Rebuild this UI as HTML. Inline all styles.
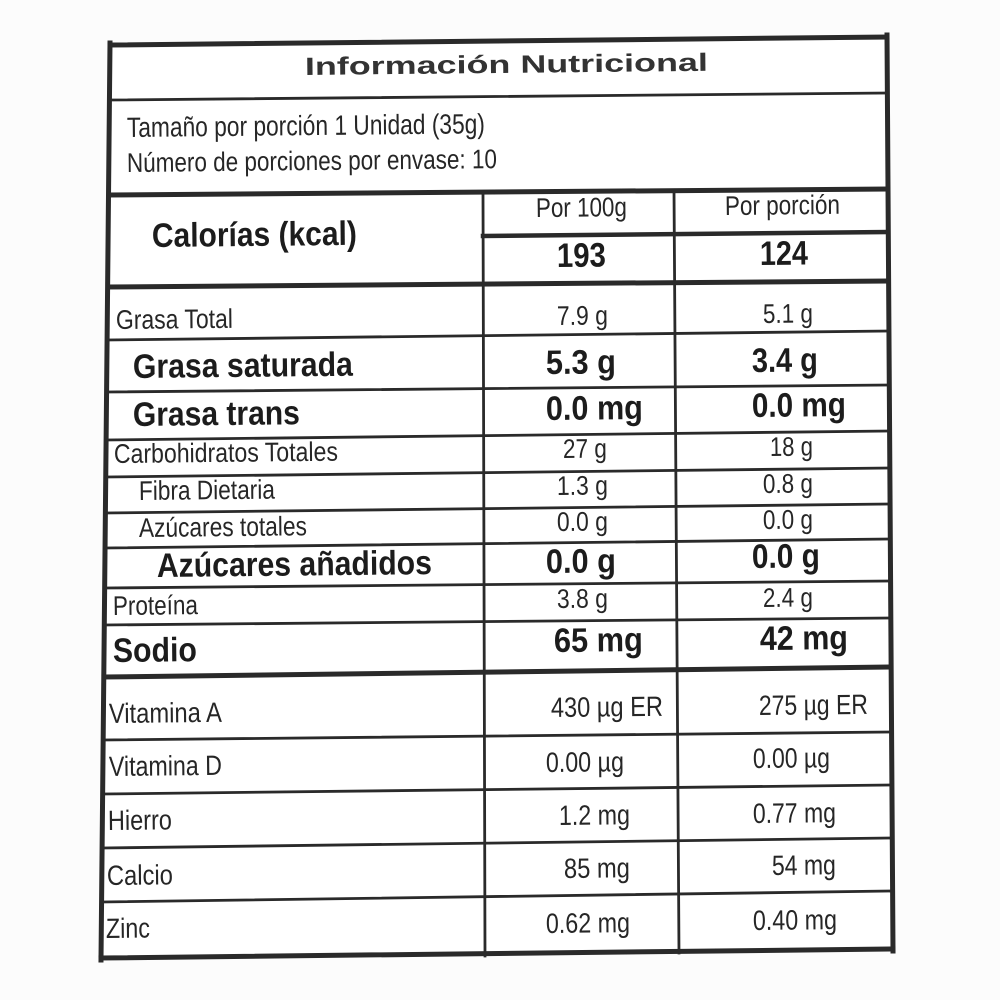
<!DOCTYPE html>
<html><head><meta charset="utf-8"><style>
html,body{margin:0;padding:0;background:#fcfcfc;}
svg{display:block;}
text{font-family:"Liberation Sans",Arial,sans-serif;fill:#262626;}
.r{font-size:27px;}
.v{font-size:28px;}
.b{font-size:34px;font-weight:bold;fill:#1c1c1c;}
</style></head><body>
<svg width="1000" height="1000" viewBox="0 0 1000 1000" xmlns="http://www.w3.org/2000/svg">
<rect width="1000" height="1000" fill="#fcfcfc"/>
<polygon points="110,45 887,37 893,949 101,958" fill="#ffffff"/>
<g stroke="#2a2a2a" stroke-linecap="square">
<line x1="110" y1="45" x2="887" y2="37" stroke-width="5"/>
<line x1="110" y1="100" x2="887" y2="93" stroke-width="2.8"/>
<line x1="109" y1="195" x2="887" y2="189" stroke-width="5"/>
<line x1="483" y1="236" x2="887" y2="232" stroke-width="4.5"/>
<line x1="108" y1="287" x2="887" y2="281" stroke-width="5"/>
<line x1="107" y1="340" x2="888" y2="331" stroke-width="2.8"/>
<line x1="107" y1="392" x2="888" y2="385" stroke-width="2.8"/>
<line x1="106" y1="440" x2="888" y2="431" stroke-width="2.8"/>
<line x1="106" y1="477" x2="888" y2="468" stroke-width="2.8"/>
<line x1="105" y1="513" x2="888" y2="504" stroke-width="2.8"/>
<line x1="105" y1="548" x2="889" y2="539" stroke-width="2.8"/>
<line x1="105" y1="588" x2="889" y2="581" stroke-width="2.8"/>
<line x1="104" y1="625" x2="889" y2="618" stroke-width="2.8"/>
<line x1="104" y1="677" x2="889" y2="667" stroke-width="5"/>
<line x1="103" y1="740" x2="890" y2="732" stroke-width="2.8"/>
<line x1="103" y1="794" x2="891" y2="785" stroke-width="2.8"/>
<line x1="102" y1="848" x2="891" y2="838" stroke-width="2.8"/>
<line x1="102" y1="902" x2="892" y2="891" stroke-width="2.8"/>
<line x1="101" y1="958" x2="893" y2="949" stroke-width="5"/>
<line x1="110" y1="43" x2="101" y2="960" stroke-width="5"/>
<line x1="887" y1="35" x2="893" y2="951" stroke-width="5"/>
<line x1="483" y1="193" x2="485" y2="956" stroke-width="2.8"/>
<line x1="674" y1="190" x2="679" y2="953" stroke-width="2.8"/>
</g>

<text x="305" y="75" font-size="25" font-weight="bold" textLength="403" lengthAdjust="spacingAndGlyphs" transform="rotate(-0.6 305 75)" style="fill:#333">Información Nutricional</text>

<text class="v" x="127" y="137" textLength="358" lengthAdjust="spacingAndGlyphs" transform="rotate(-0.6 127 137)">Tamaño por porción 1 Unidad (35g)</text>
<text class="r" x="127" y="172" textLength="370" lengthAdjust="spacingAndGlyphs" transform="rotate(-0.6 127 172)">Número de porciones por envase: 10</text>

<text class="b" x="152" y="247" font-size="33" textLength="205" lengthAdjust="spacingAndGlyphs" transform="rotate(-0.6 152 247)">Calorías (kcal)</text>
<text class="r" x="536" y="217" textLength="91" lengthAdjust="spacingAndGlyphs" transform="rotate(-0.6 536 217)">Por 100g</text>
<text class="r" x="725" y="215" textLength="115" lengthAdjust="spacingAndGlyphs" transform="rotate(-0.6 725 215)">Por porción</text>
<text class="b" x="557" y="267" textLength="49" lengthAdjust="spacingAndGlyphs" transform="rotate(-0.6 557 267)">193</text>
<text class="b" x="760" y="265" textLength="48" lengthAdjust="spacingAndGlyphs" transform="rotate(-0.6 760 265)">124</text>

<text class="r" x="116" y="329" textLength="117" lengthAdjust="spacingAndGlyphs" transform="rotate(-0.6 116 329)">Grasa Total</text>
<text class="r" x="557" y="325" textLength="51" lengthAdjust="spacingAndGlyphs" transform="rotate(-0.6 557 325)">7.9 g</text>
<text class="r" x="763" y="323" textLength="50" lengthAdjust="spacingAndGlyphs" transform="rotate(-0.6 763 323)">5.1 g</text>

<text class="b" x="133" y="378" font-size="33" textLength="220" lengthAdjust="spacingAndGlyphs" transform="rotate(-0.6 133 378)">Grasa saturada</text>
<text class="b" x="546" y="374" font-size="33" textLength="70" lengthAdjust="spacingAndGlyphs" transform="rotate(-0.6 546 374)">5.3 g</text>
<text class="b" x="752" y="372" font-size="33" textLength="66" lengthAdjust="spacingAndGlyphs" transform="rotate(-0.6 752 372)">3.4 g</text>

<text class="b" x="133" y="426" font-size="33" textLength="167" lengthAdjust="spacingAndGlyphs" transform="rotate(-0.6 133 426)">Grasa trans</text>
<text class="b" x="546" y="420" textLength="97" lengthAdjust="spacingAndGlyphs" transform="rotate(-0.6 546 420)">0.0 mg</text>
<text class="b" x="752" y="417" textLength="94" lengthAdjust="spacingAndGlyphs" transform="rotate(-0.6 752 417)">0.0 mg</text>

<text class="r" x="114" y="463" font-size="26" textLength="224" lengthAdjust="spacingAndGlyphs" transform="rotate(-0.6 114 463)">Carbohidratos Totales</text>
<text class="r" x="563" y="458" textLength="44" lengthAdjust="spacingAndGlyphs" transform="rotate(-0.6 563 458)">27 g</text>
<text class="r" x="770" y="456" textLength="43" lengthAdjust="spacingAndGlyphs" transform="rotate(-0.6 770 456)">18 g</text>

<text class="r" x="139" y="500" font-size="26" textLength="136" lengthAdjust="spacingAndGlyphs" transform="rotate(-0.6 139 500)">Fibra Dietaria</text>
<text class="r" x="557" y="495" textLength="51" lengthAdjust="spacingAndGlyphs" transform="rotate(-0.6 557 495)">1.3 g</text>
<text class="r" x="763" y="493" textLength="50" lengthAdjust="spacingAndGlyphs" transform="rotate(-0.6 763 493)">0.8 g</text>

<text class="r" x="139" y="537" font-size="26" textLength="168" lengthAdjust="spacingAndGlyphs" transform="rotate(-0.6 139 537)">Azúcares totales</text>
<text class="r" x="557" y="531" textLength="51" lengthAdjust="spacingAndGlyphs" transform="rotate(-0.6 557 531)">0.0 g</text>
<text class="r" x="763" y="529" textLength="50" lengthAdjust="spacingAndGlyphs" transform="rotate(-0.6 763 529)">0.0 g</text>

<text class="b" x="157" y="577" textLength="275" lengthAdjust="spacingAndGlyphs" transform="rotate(-0.6 157 577)">Azúcares añadidos</text>
<text class="b" x="546" y="573" textLength="70" lengthAdjust="spacingAndGlyphs" transform="rotate(-0.6 546 573)">0.0 g</text>
<text class="b" x="752" y="568" textLength="68" lengthAdjust="spacingAndGlyphs" transform="rotate(-0.6 752 568)">0.0 g</text>

<text class="r" x="113" y="615" font-size="26" textLength="85" lengthAdjust="spacingAndGlyphs" transform="rotate(-0.6 113 615)">Proteína</text>
<text class="r" x="557" y="608" textLength="51" lengthAdjust="spacingAndGlyphs" transform="rotate(-0.6 557 608)">3.8 g</text>
<text class="r" x="763" y="607" textLength="50" lengthAdjust="spacingAndGlyphs" transform="rotate(-0.6 763 607)">2.4 g</text>

<text class="b" x="113" y="662" font-size="35" textLength="84" lengthAdjust="spacingAndGlyphs" transform="rotate(-0.6 113 662)">Sodio</text>
<text class="b" x="554" y="652" font-size="33" textLength="89" lengthAdjust="spacingAndGlyphs" transform="rotate(-0.6 554 652)">65 mg</text>
<text class="b" x="760" y="650" font-size="33" textLength="88" lengthAdjust="spacingAndGlyphs" transform="rotate(-0.6 760 650)">42 mg</text>

<text class="v" x="109" y="723" textLength="113" lengthAdjust="spacingAndGlyphs" transform="rotate(-0.6 109 723)">Vitamina A</text>
<text class="v" x="551" y="717" textLength="112" lengthAdjust="spacingAndGlyphs" transform="rotate(-0.6 551 717)">430 µg ER</text>
<text class="v" x="759" y="715" textLength="109" lengthAdjust="spacingAndGlyphs" transform="rotate(-0.6 759 715)">275 µg ER</text>

<text class="v" x="109" y="776" textLength="113" lengthAdjust="spacingAndGlyphs" transform="rotate(-0.6 109 776)">Vitamina D</text>
<text class="v" x="546" y="772" textLength="78" lengthAdjust="spacingAndGlyphs" transform="rotate(-0.6 546 772)">0.00 µg</text>
<text class="v" x="753" y="768" textLength="77" lengthAdjust="spacingAndGlyphs" transform="rotate(-0.6 753 768)">0.00 µg</text>

<text class="v" x="108" y="830" textLength="64" lengthAdjust="spacingAndGlyphs" transform="rotate(-0.6 108 830)">Hierro</text>
<text class="v" x="559" y="825" textLength="71" lengthAdjust="spacingAndGlyphs" transform="rotate(-0.6 559 825)">1.2 mg</text>
<text class="v" x="753" y="823" textLength="83" lengthAdjust="spacingAndGlyphs" transform="rotate(-0.6 753 823)">0.77 mg</text>

<text class="v" x="107" y="885" textLength="66" lengthAdjust="spacingAndGlyphs" transform="rotate(-0.6 107 885)">Calcio</text>
<text class="v" x="564" y="878" textLength="66" lengthAdjust="spacingAndGlyphs" transform="rotate(-0.6 564 878)">85 mg</text>
<text class="v" x="772" y="875" textLength="64" lengthAdjust="spacingAndGlyphs" transform="rotate(-0.6 772 875)">54 mg</text>

<text class="v" x="106" y="938" textLength="44" lengthAdjust="spacingAndGlyphs" transform="rotate(-0.6 106 938)">Zinc</text>
<text class="v" x="546" y="933" textLength="84" lengthAdjust="spacingAndGlyphs" transform="rotate(-0.6 546 933)">0.62 mg</text>
<text class="v" x="753" y="930" textLength="84" lengthAdjust="spacingAndGlyphs" transform="rotate(-0.6 753 930)">0.40 mg</text>
</svg>
</body></html>
